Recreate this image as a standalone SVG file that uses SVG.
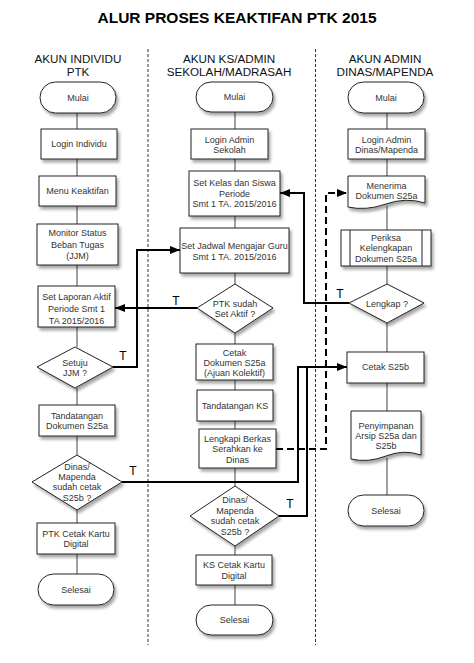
<svg xmlns="http://www.w3.org/2000/svg" width="474" height="663" viewBox="0 0 474 663">
<defs>
<filter id="sh" x="-20%" y="-20%" width="150%" height="160%">
<feDropShadow dx="2" dy="3" stdDeviation="1.8" flood-color="#000" flood-opacity="0.35"/>
</filter>
<marker id="ah" viewBox="0 0 10 8" refX="10" refY="4" markerWidth="5" markerHeight="4" orient="auto" markerUnits="strokeWidth">
<path d="M0,0 L10,4 L0,8 Z" fill="#000"/>
</marker>
<style>
.n{fill:#fff;stroke:#222;stroke-width:1;filter:url(#sh)}
.t{font-family:"Liberation Sans",Arial,sans-serif;font-size:9px;fill:#333;text-anchor:middle}
.h{font-family:"Liberation Sans",Arial,sans-serif;font-size:11.7px;fill:#111;text-anchor:middle}
.lbl{font-family:"Liberation Sans",Arial,sans-serif;font-size:12px;fill:#000;text-anchor:middle}
.v{stroke:#444;stroke-width:1;fill:none}
.c{stroke:#000;stroke-width:2;fill:none}
.d{stroke:#000;stroke-width:2;fill:none;stroke-dasharray:7 4}
.lane{stroke:#333;stroke-width:1;stroke-dasharray:3 2;fill:none}
</style>
</defs>
<rect width="474" height="663" fill="#fff"/>
<text x="237" y="23" font-family="'Liberation Sans',Arial,sans-serif" font-size="15.5" font-weight="bold" text-anchor="middle" fill="#000">ALUR PROSES KEAKTIFAN PTK 2015</text>
<g id="headers">
<text class="h" x="78" y="63">AKUN INDIVIDU</text>
<text class="h" x="78" y="76">PTK</text>
<text class="h" x="229" y="63">AKUN KS/ADMIN</text>
<text class="h" x="229" y="76">SEKOLAH/MADRASAH</text>
<text class="h" x="385" y="63">AKUN ADMIN</text>
<text class="h" x="385" y="76">DINAS/MAPENDA</text>
</g>
<g id="lanes">
<line class="lane" x1="148" y1="49" x2="148" y2="645"/>
<line class="lane" x1="315.5" y1="49" x2="315.5" y2="645"/>
</g>
<g id="connectors">
<path class="v" d="M77,113V129M77,159V176M77,206V224M77,265V286M77,327V347M77,388V405M77,436V455M77,510V523M77,554V574"/>
<path class="v" d="M235,112V129M235,159V171M235,216V228M235,273V284M235,333V344M235,380V390M235,421V429M235,468V486M235,546V555M235,585V605"/>
<path class="v" d="M387,113V129M387,159V176M387,206V230M387,266V284M387,323V352M387,383V411M387,458V495"/>
<path class="c" d="M113,367H137V250H180" marker-end="url(#ah)"/>
<path class="c" d="M197,308H115" marker-end="url(#ah)"/>
<path class="c" d="M349,303H304V193H280" marker-end="url(#ah)"/>
<path class="c" d="M122,482H298V367H347" marker-end="url(#ah)"/>
<path class="c" d="M279,516H307V367"/>
<path class="d" d="M276,449H326V193H347" marker-end="url(#ah)"/>
<text class="lbl" x="123" y="360">T</text>
<text class="lbl" x="176" y="305">T</text>
<text class="lbl" x="340" y="298">T</text>
<text class="lbl" x="133" y="475">T</text>
<text class="lbl" x="290" y="508">T</text>
</g>
<g id="n-mulai1"><rect class="n" x="40" y="82" width="76" height="31" rx="15.5"/><text class="t" x="78" y="101">Mulai</text></g>
<g id="n-login1"><rect class="n" x="41" y="129" width="76" height="30"/><text class="t" x="79" y="147">Login Individu</text></g>
<g id="n-menu"><rect class="n" x="39" y="176" width="77" height="30"/><text class="t" x="77.5" y="194">Menu Keaktifan</text></g>
<g id="n-monitor"><rect class="n" x="37" y="224" width="81" height="41"/><text class="t" x="77.5" y="236">Monitor Status</text><text class="t" x="77.5" y="247.5">Beban Tugas</text><text class="t" x="77.5" y="259">(JJM)</text></g>
<g id="n-laporan"><rect class="n" x="38" y="286" width="77" height="41"/><text class="t" x="76.5" y="300">Set Laporan Aktif</text><text class="t" x="76.5" y="312">Periode Smt 1</text><text class="t" x="76.5" y="324">TA 2015/2016</text></g>
<g id="n-setuju"><polygon class="n" points="75,347 113,367 75,388 37,367"/><text class="t" x="75" y="366">Setuju</text><text class="t" x="75" y="376">JJM ?</text></g>
<g id="n-ttd1"><rect class="n" x="39" y="405" width="76" height="31"/><text class="t" x="77" y="419">Tandatangan</text><text class="t" x="77" y="429">Dokumen S25a</text></g>
<g id="n-dinas1"><polygon class="n" points="77,455 122,482 77,510 32,482"/><text class="t" x="77" y="470">Dinas/</text><text class="t" x="77" y="480">Mapenda</text><text class="t" x="77" y="490">sudah cetak</text><text class="t" x="77" y="501">S25b ?</text></g>
<g id="n-ptkkartu"><rect class="n" x="37" y="523" width="78" height="31"/><text class="t" x="76" y="537">PTK Cetak Kartu</text><text class="t" x="76" y="547">Digital</text></g>
<g id="n-selesai1"><rect class="n" x="38" y="574" width="76" height="31" rx="15.5"/><text class="t" x="76" y="593">Selesai</text></g>
<g id="n-mulai2"><rect class="n" x="196" y="82" width="77" height="30" rx="15"/><text class="t" x="234.5" y="100">Mulai</text></g>
<g id="n-login2"><rect class="n" x="191" y="129" width="77" height="30"/><text class="t" x="229.5" y="143">Login Admin</text><text class="t" x="229.5" y="153">Sekolah</text></g>
<g id="n-kelas"><rect class="n" x="189" y="171" width="91" height="45"/><text class="t" x="234.5" y="186">Set Kelas dan Siswa</text><text class="t" x="234.5" y="197">Periode</text><text class="t" x="234.5" y="207">Smt 1 TA. 2015/2016</text></g>
<g id="n-jadwal"><rect class="n" x="180" y="228" width="109" height="45"/><text class="t" x="234.5" y="249" font-size="8.7">Set Jadwal Mengajar Guru</text><text class="t" x="234.5" y="260">Smt 1 TA. 2015/2016</text></g>
<g id="n-ptksudah"><polygon class="n" points="235,284 273,308 235,333 197,308"/><text class="t" x="235" y="307">PTK sudah</text><text class="t" x="235" y="317">Set Aktif ?</text></g>
<g id="n-cetak"><rect class="n" x="196" y="344" width="77" height="36"/><text class="t" x="234.5" y="356">Cetak</text><text class="t" x="234.5" y="366">Dokumen S25a</text><text class="t" x="234.5" y="376">(Ajuan Kolektif)</text></g>
<g id="n-ttdks"><rect class="n" x="197" y="390" width="76" height="31"/><text class="t" x="235" y="409">Tandatangan KS</text></g>
<g id="n-lengkapi"><rect class="n" x="199" y="429" width="77" height="39"/><text class="t" x="237.5" y="442">Lengkapi Berkas</text><text class="t" x="237.5" y="452">Serahkan ke</text><text class="t" x="237.5" y="463">Dinas</text></g>
<g id="n-dinas2"><polygon class="n" points="235,486 279,516 235,546 190,516"/><text class="t" x="235" y="503">Dinas/</text><text class="t" x="235" y="514">Mapenda</text><text class="t" x="235" y="524">sudah cetak</text><text class="t" x="235" y="535">S25b ?</text></g>
<g id="n-kskartu"><rect class="n" x="196" y="555" width="76" height="30"/><text class="t" x="234" y="568">KS Cetak Kartu</text><text class="t" x="234" y="579">Digital</text></g>
<g id="n-selesai2"><rect class="n" x="196" y="605" width="77" height="30" rx="15"/><text class="t" x="234.5" y="623">Selesai</text></g>
<g id="n-mulai3"><rect class="n" x="348" y="82" width="76" height="31" rx="15.5"/><text class="t" x="386" y="101">Mulai</text></g>
<g id="n-login3"><rect class="n" x="348" y="129" width="77" height="30"/><text class="t" x="386.5" y="143">Login Admin</text><text class="t" x="386.5" y="153">Dinas/Mapenda</text></g>
<g id="n-menerima"><path class="n" d="M348,176H425V203Q406,197 386,204T348,207Z"/><text class="t" x="386.5" y="189">Menerima</text><text class="t" x="386.5" y="199">Dokumen S25a</text></g>
<g id="n-periksa"><rect class="n" x="341" y="230" width="90" height="36"/><path d="M350,230V266M422,230V266" stroke="#222" stroke-width="1"/><text class="t" x="386" y="241">Periksa</text><text class="t" x="386" y="251">Kelengkapan</text><text class="t" x="386" y="262">Dokumen S25a</text></g>
<g id="n-lengkap"><polygon class="n" points="387,284 424,303 387,323 349,303"/><text class="t" x="387" y="307">Lengkap ?</text></g>
<g id="n-cetak25b"><rect class="n" x="347" y="352" width="77" height="31"/><text class="t" x="385.5" y="370">Cetak S25b</text></g>
<g id="n-simpan"><path class="n" d="M351,411H421V455Q404,449 386,456T351,459Z"/><text class="t" x="386" y="429">Penyimpanan</text><text class="t" x="386" y="439">Arsip S25a dan</text><text class="t" x="386" y="449">S25b</text></g>
<g id="n-selesai3"><rect class="n" x="348" y="495" width="76" height="31" rx="15.5"/><text class="t" x="386" y="514">Selesai</text></g>
</svg>
